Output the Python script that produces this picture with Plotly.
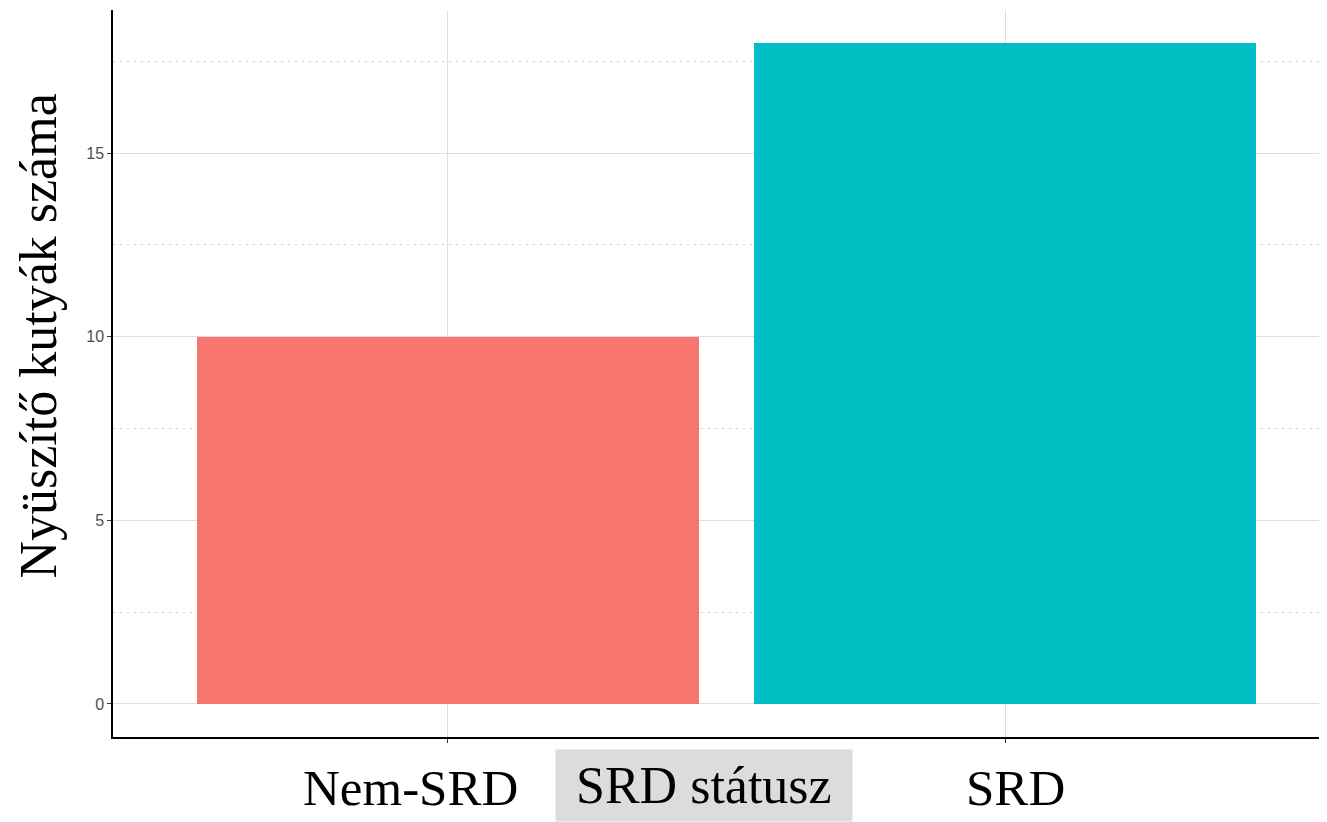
import plotly.graph_objects as go

categories = ["Nem-SRD", "SRD"]
counts = [10, 18]
bar_colors = ["#F8766D", "#00BFC4"]
y_ticks = [0, 5, 10, 15]
y_title = "Nyüszítő kutyák száma"
x_title = "SRD státusz"

SERIF = "Georgia, 'Liberation Serif', 'DejaVu Serif', serif"

# page has an 8px body margin; figure is sized to fill the rest of the window
W, H = 1319, 814
L, T, B = 105, 2, 85
PW, PH = W - L, H - T - B


def px_x(page_x):
    return (page_x - 8 - L) / PW


def px_y(page_y):
    return 1 - (page_y - 8 - T) / PH


fig = go.Figure()
fig.add_trace(go.Bar(
    x=[0, 1], y=counts, width=0.9,
    marker=dict(color=bar_colors, line=dict(width=0)),
    showlegend=False,
))

fig.update_layout(
    width=W, height=H,
    margin=dict(l=L, r=0, t=T, b=B, autoexpand=False),
    plot_bgcolor="white", paper_bgcolor="white",
    bargap=0,
)
fig.update_xaxes(
    range=[-0.6, 1.577],
    tickmode="array", tickvals=[0, 1], ticktext=categories,
    showticklabels=False,
    ticks="outside", ticklen=4, tickcolor="#333333",
    showgrid=True, gridcolor="#dedede", gridwidth=1.3,
    showline=True, linecolor="black", linewidth=1.5,
    zeroline=False, automargin=False,
)
fig.update_yaxes(
    range=[-0.9, 18.9],
    tickmode="array", tickvals=y_ticks,
    tickfont=dict(family="Arial, 'Liberation Sans', sans-serif", size=16, color="#4d4d4d"),
    ticks="outside", ticklen=4, tickcolor="#333333",
    showgrid=True, gridcolor="#dedede", gridwidth=1.3,
    minor=dict(dtick=2.5, tick0=0, showgrid=True, gridcolor="#cccccc", griddash="2px,5px", gridwidth=1.3),
    showline=True, linecolor="black", linewidth=1.5,
    zeroline=False, automargin=False,
)
# category labels (offset horizontally as in the reference)
label_shifts = [-37, 10]
for i, (cat, sh) in enumerate(zip(categories, label_shifts)):
    fig.add_annotation(
        text=cat, xref="x", yref="paper", x=i, y=px_y(788), xshift=sh,
        xanchor="center", yanchor="middle", showarrow=False,
        font=dict(family=SERIF, size=51, color="black"),
    )
fig.add_annotation(
    text=y_title, xref="paper", yref="paper",
    x=px_x(38), y=px_y(336.5), textangle=-90,
    xanchor="center", yanchor="middle", showarrow=False,
    font=dict(family=SERIF, size=52, color="black"),
)
fig.add_annotation(
    text="\u00a0" + x_title + "\u00a0", xref="paper", yref="paper",
    x=px_x(703.5), y=px_y(785),
    xanchor="center", yanchor="middle", showarrow=False,
    font=dict(family=SERIF, size=52, color="black"),
    bgcolor="#dcdcdc", borderpad=7,
)
fig.write_html("out.html")
